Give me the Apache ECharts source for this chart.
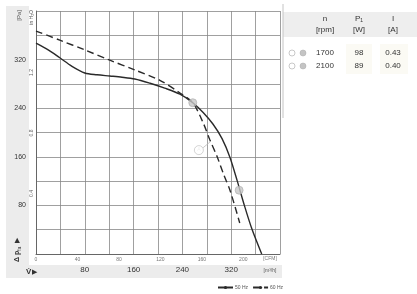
<!DOCTYPE html>
<html><head><meta charset="utf-8">
<script src="https://cdn.jsdelivr.net/npm/echarts@6/dist/echarts.min.js"></script>
<style>html,body{margin:0;padding:0;background:#fff}#c{width:417px;height:294px}</style>
</head><body><div id="c"></div>
<script>
// ---- data ----
const flowTicks = [80, 160, 240, 320];           // m³/h labels
const cfmTicks = [0, 40, 80, 120, 160, 200];     // CFM labels
const paTicks = [80, 160, 240, 320];             // Pa labels
const inH2OTicks = [0.4, 0.8, 1.2];              // in H2O labels
const curve50Hz = [[0,347],[20,336],[39,323],[59,309],[80,298],[100,295],[121,293],[141,291],[162,288],[187,281],[211,273],[236,263],[257,249],[274,233],[290,214],[305,190],[318,159],[330,120],[341,82],[354,41],[370,0]];
const curve60Hz = [[0,367],[39,352],[80,336],[121,319],[162,303],[203,286],[236,265],[257,249],[274,216],[285,188],[297,160],[308,130],[318,105],[334,51]];
const opPoints = [[257,249],[333,105]];
const pointA = [[267,171]];
const leaderA = [[274,175],[286,185]];
const speeds = ['1700', '2100'];
const power = ['98', '89'];
const current = ['0.43', '0.40'];
const headers = [['n', '[rpm]'], ['P₁', '[W]'], ['I', '[A]']];

const FONT = "'Liberation Sans Narrow','Arial Narrow','Liberation Sans',sans-serif";
const chart = echarts.init(document.getElementById('c'));
const G = {left: 36, top: 11, right: 137, bottom: 40};

const graphics = [
  {type:'rect', z:-10, shape:{x:6,y:6,width:23,height:259}, style:{fill:'#ececec'}},
  {type:'rect', z:-10, shape:{x:6,y:265,width:276,height:13}, style:{fill:'#ececec'}},
  {type:'rect', z:-10, shape:{x:283,y:12,width:134,height:25}, style:{fill:'#eeeeee'}},
  {type:'rect', z:-10, shape:{x:346,y:44,width:26,height:30}, style:{fill:'#fbfaf4'}},
  {type:'rect', z:-10, shape:{x:380,y:44,width:28,height:30}, style:{fill:'#fbfaf4'}},
  {type:'line', shape:{x1:283,y1:4,x2:283,y2:118}, style:{stroke:'#c4c4c4',lineWidth:1}},
  {type:'text', x:19, y:10, rotation:Math.PI/2, style:{text:'[Pa]', font:'6px '+FONT, fill:'#555', align:'right', verticalAlign:'middle'}},
  {type:'text', x:32, y:10, rotation:Math.PI/2, style:{text:'in H₂O', font:'5px '+FONT, fill:'#555', align:'right', verticalAlign:'middle'}},
  {type:'text', x:17, y:262, rotation:Math.PI/2, style:{text:'Δ p', font:'bold 7px '+FONT, fill:'#333', align:'left', verticalAlign:'middle'}},
  {type:'text', x:20, y:251, rotation:Math.PI/2, style:{text:'fa', font:'5px '+FONT, fill:'#333', align:'left', verticalAlign:'middle'}},
  {type:'text', x:17, y:240, rotation:Math.PI/2, style:{text:'▶', font:'7px '+FONT, fill:'#333', align:'center', verticalAlign:'middle'}},
  {type:'text', x:26, y:272, style:{text:'V̇', font:'bold 8px '+FONT, fill:'#333', align:'left', verticalAlign:'middle'}},
  {type:'text', x:32, y:272, style:{text:'▶', font:'7px '+FONT, fill:'#333', align:'left', verticalAlign:'middle'}},
  {type:'text', x:270, y:271, style:{text:'[m³/h]', font:'5px '+FONT, fill:'#555', align:'center', verticalAlign:'middle'}},
  {type:'text', x:270, y:259, style:{text:'[CFM]', font:'5px '+FONT, fill:'#777', align:'center', verticalAlign:'middle'}},
  {type:'text', x:199, y:150, style:{text:'A', font:'5px '+FONT, fill:'#aaa', align:'center', verticalAlign:'middle'}}
];
const colX = [325, 359, 393];
headers.forEach((h, i) => {
  graphics.push({type:'text', x:colX[i], y:19, style:{text:h[0], font:'8px '+FONT, fill:'#333', align:'center', verticalAlign:'middle'}});
  graphics.push({type:'text', x:colX[i], y:30, style:{text:h[1], font:'8px '+FONT, fill:'#333', align:'center', verticalAlign:'middle'}});
});
speeds.forEach((s, r) => {
  const y = 53 + r * 13;
  graphics.push({type:'circle', shape:{cx:292,cy:y,r:3}, style:{fill:'#fff',stroke:'#bbb',lineWidth:0.8}});
  graphics.push({type:'circle', shape:{cx:303,cy:y,r:3}, style:{fill:'#c4c4c4',stroke:'#aaa',lineWidth:0.5}});
  [s, power[r], current[r]].forEach((t, i) => {
    graphics.push({type:'text', x:colX[i], y:y, style:{text:t, font:'8px '+FONT, fill:'#333', align:'center', verticalAlign:'middle'}});
  });
});

chart.setOption({
  animation: false,
  textStyle: {fontFamily: FONT},
  grid: G,
  legend: {
    data: ['50 Hz', '60 Hz'], left: 212, top: 280, itemWidth: 15, itemHeight: 4, itemGap: 4,
    textStyle: {fontSize: 5, color: '#555', fontFamily: FONT, padding: [0,0,0,-3]}
  },
  xAxis: [
    {type:'value', min:0, max:400, interval:40, position:'bottom',
     axisLine:{show:true, lineStyle:{color:'#666', width:1}}, axisTick:{show:false},
     splitLine:{show:true, lineStyle:{color:'#888', width:0.8}},
     axisLabel:{margin:12, fontSize:8, color:'#333', fontFamily:FONT,
       formatter: v => flowTicks.includes(v) ? String(v) : ''}},
    {type:'value', min:0, max:400/1.699, interval:40, position:'bottom',
     axisLine:{show:false}, axisTick:{show:false}, splitLine:{show:false},
     axisLabel:{margin:3, fontSize:5, color:'#777', fontFamily:FONT, showMaxLabel:false,
       formatter: v => cfmTicks.includes(v) ? String(v) : ''}}
  ],
  yAxis: [
    {type:'value', min:0, max:400, interval:40, position:'left',
     axisLine:{show:true, lineStyle:{color:'#666', width:1}}, axisTick:{show:false},
     splitLine:{show:true, lineStyle:{color:'#888', width:0.8}},
     axisLabel:{margin:10, fontSize:7, color:'#333', fontFamily:FONT,
       formatter: v => paTicks.includes(v) ? String(v) : ''}},
    {type:'value', min:0, max:400/249.089, interval:0.4, position:'left',
     axisLine:{show:false}, axisTick:{show:false}, splitLine:{show:false},
     axisLabel:{margin:2, fontSize:5, color:'#666', rotate:90, fontFamily:FONT, showMaxLabel:false,
       formatter: v => inH2OTicks.some(t => Math.abs(t - v) < 1e-6) ? v.toFixed(1) : ''}}
  ],
  series: [
    {name:'50 Hz', type:'line', smooth:0.3, symbol:'none', data:curve50Hz,
     lineStyle:{color:'#2a2a2a', width:1.4}, itemStyle:{color:'#2a2a2a'}},
    {name:'60 Hz', type:'line', smooth:0.3, symbol:'none', data:curve60Hz,
     lineStyle:{color:'#2a2a2a', width:1.4, type:[7,4]}, itemStyle:{color:'#2a2a2a'}},
    {name:'op', type:'scatter', data:opPoints, symbolSize:8, z:5,
     itemStyle:{color:'#c8c8c8', borderColor:'#aaa', borderWidth:0.8}},
    {name:'A', type:'scatter', data:pointA, symbolSize:9, z:5,
     itemStyle:{color:'#fff', borderColor:'#bbb', borderWidth:0.8}},
    {name:'leader', type:'line', data:leaderA, symbol:'none', lineStyle:{color:'#bbb', width:0.8}}
  ],
  graphic: graphics
});
</script></body></html>
